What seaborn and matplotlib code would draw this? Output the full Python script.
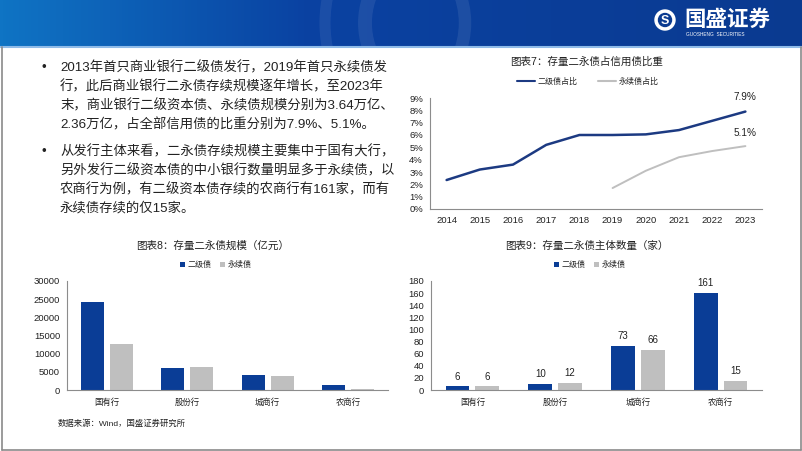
import numpy as np
import pandas as pd
import matplotlib
matplotlib.use("Agg")
import matplotlib.pyplot as plt
from matplotlib.patches import Arc, Circle
from matplotlib.colors import LinearSegmentedColormap
from matplotlib.ticker import MultipleLocator, FixedLocator, FuncFormatter
import seaborn as sns

# ---------------- data ----------------
years = [2014, 2015, 2016, 2017, 2018, 2019, 2020, 2021, 2022, 2023]
tier2_share = [2.35, 3.2, 3.6, 5.2, 6.0, 6.0, 6.05, 6.4, 7.15, 7.9]
perp_years = [2019, 2020, 2021, 2022, 2023]
perp_share = [1.7, 3.1, 4.2, 4.7, 5.1]
line_names = ["二级债占比", "永续债占比"]

bank_types = ["国有行", "股份行", "城商行", "农商行"]
series_names = ["二级债", "永续债"]
tier2_scale = [24200, 6000, 4100, 1450]
perp_scale = [12700, 6200, 3750, 270]
tier2_count = [6, 10, 73, 161]
perp_count = [6, 12, 66, 15]

para1 = ["2013年首只商业银行二级债发行，2019年首只永续债发",
         "行，此后商业银行二永债存续规模逐年增长，至2023年",
         "末，商业银行二级资本债、永续债规模分别为3.64万亿、",
         "2.36万亿，占全部信用债的比重分别为7.9%、5.1%。"]
para2 = ["从发行主体来看，二永债存续规模主要集中于国有大行，",
         "另外发行二级资本债的中小银行数量明显多于永续债，以",
         "农商行为例，有二级资本债存续的农商行有161家，而有",
         "永续债存续的仅15家。"]

title7 = "图表7：存量二永债占信用债比重"
title8 = "图表8：存量二永债规模（亿元）"
title9 = "图表9：存量二永债主体数量（家）"
source = "数据来源：Wind，国盛证券研究所"

# ---------------- style ----------------
sns.set_theme(style="white")
plt.rcParams['font.family'] = ['Liberation Sans', 'Noto Sans CJK SC', 'DejaVu Sans']
plt.rcParams['axes.unicode_minus'] = False

NAVY = "#1c3a82"
BLUE = "#0a3d96"
GREY = "#bfbfbf"
AXC = "#8c8c8c"
TXT = "#222222"

W, H = 802, 451
fig = plt.figure(figsize=(W / 100, H / 100), dpi=100)
fig.patch.set_facecolor("white")


def px(x0, y0, x1, y1):
    return [x0 / W, 1 - y1 / H, (x1 - x0) / W, (y1 - y0) / H]


def ftext(x, y, s, **kw):
    fig.text(x / W, 1 - y / H, s, **kw)


# ---------------- header ----------------
hax = fig.add_axes(px(0, 0, W, 46))
hax.set_xlim(0, W)
hax.set_ylim(46, 0)
hax.axis("off")
cmap = LinearSegmentedColormap.from_list(
    "hdr", [(0, "#0f74c4"), (0.38, "#0a42a2"), (1.0, "#0a3a90")])
grad = np.linspace(0, 1, 256).reshape(1, -1)
hax.imshow(grad, cmap=cmap, aspect="auto", extent=[0, W, 46, 0])
# faint watermark shapes
hax.add_patch(Arc((420, 23), 110, 130, theta1=95, theta2=265,
                  color="white", alpha=0.08, lw=10))
hax.add_patch(Arc((415, 23), 100, 130, theta1=-70, theta2=70,
                  color="white", alpha=0.08, lw=9))
hax.add_patch(Arc((400, 23), 150, 200, theta1=155, theta2=205,
                  color="white", alpha=0.07, lw=8))
# logo
hax.add_patch(Circle((665, 20), 10, color="white"))
hax.add_patch(Circle((665, 20), 6.5, color="#0a3a90"))
hax.text(665, 20.5, "S", color="white", fontsize=9, fontweight="bold",
         ha="center", va="center")
hax.text(684, 19, "国盛证券", color="white", fontsize=15.5, fontweight="bold",
         ha="left", va="center", family=['Noto Sans CJK SC'])
hax.text(686, 35, "GUOSHENG  SECURITIES", color="white", fontsize=3.4,
         ha="left", va="center")
# light strip under header
fig.add_artist(plt.Line2D([0, 1], [1 - 47 / H, 1 - 47 / H], color="#8fbbe8",
                          lw=1.5, transform=fig.transFigure))

# slide border
for xs, ys in [([1.5 / W, 1.5 / W], [1 - 47 / H, 1.5 / H]),
               ([1 - 1.5 / W, 1 - 1.5 / W], [1 - 47 / H, 1.5 / H]),
               ([1.5 / W, 1 - 1.5 / W], [1.5 / H, 1.5 / H])]:
    fig.add_artist(plt.Line2D(xs, ys, color="#8a8a8a", lw=1.2,
                              transform=fig.transFigure))

# ---------------- text block ----------------
FS = 9.6
ys1 = [68, 87, 106, 125]
ys2 = [152, 171, 190, 208]
ftext(42, ys1[0], "•", fontsize=FS, color=TXT, va="center", ha="left")
ftext(42, ys2[0], "•", fontsize=FS, color=TXT, va="center", ha="left")
for y, s in zip(ys1, para1):
    ftext(60, y, s, fontsize=FS, color=TXT, va="center", ha="left")
for y, s in zip(ys2, para2):
    ftext(60, y, s, fontsize=FS, color=TXT, va="center", ha="left")


def style_axes(ax):
    for sp in ["top", "right"]:
        ax.spines[sp].set_visible(False)
    for sp in ["left", "bottom"]:
        ax.spines[sp].set_color(AXC)
        ax.spines[sp].set_linewidth(0.8)
    ax.tick_params(axis="y", which="major", length=3, width=0.8, color=AXC,
                   direction="out", labelsize=6.8, labelcolor=TXT, pad=2)
    ax.tick_params(axis="x", which="major", length=0, labelcolor=TXT)
    ax.tick_params(axis="x", which="minor", length=3.5, width=0.8, color=AXC,
                   direction="out")
    ax.set_xlabel("")
    ax.set_ylabel("")
    ax.set_facecolor("white")


# ---------------- chart 7 (lines) ----------------
ax7 = fig.add_axes(px(430, 98, 762, 209))
df7 = pd.DataFrame({
    "year": years + perp_years,
    "share": tier2_share + perp_share,
    "series": [line_names[0]] * len(years) + [line_names[1]] * len(perp_years),
})
sns.lineplot(data=df7, x="year", y="share", hue="series",
             palette=[NAVY, GREY], ax=ax7, legend=True)
ax7.lines[0].set_linewidth(1.8)
ax7.lines[1].set_linewidth(1.4)
ax7.set_xlim(years[0] - 0.5, years[-1] + 0.5)
ax7.set_ylim(0, 9)
ax7.yaxis.set_major_locator(MultipleLocator(1))
ax7.yaxis.set_major_formatter(FuncFormatter(lambda v, p: f"{v:.0f}%"))
ax7.set_xticks(years)
ax7.set_xticklabels([str(y) for y in years])
ax7.xaxis.set_minor_locator(FixedLocator([y + 0.5 for y in years]))
style_axes(ax7)
ax7.tick_params(axis="x", which="major", labelsize=6.8, pad=5)
ax7.annotate(f"{tier2_share[-1]:.1f}%", (years[-1], tier2_share[-1]),
             xytext=(0, 7), textcoords="offset points", ha="center",
             va="bottom", fontsize=7.2, color=TXT)
ax7.annotate(f"{perp_share[-1]:.1f}%", (perp_years[-1], perp_share[-1]),
             xytext=(0, 6), textcoords="offset points", ha="center",
             va="bottom", fontsize=7.2, color=TXT)
h, l = ax7.get_legend_handles_labels()
ax7.legend(h, l, loc="center", bbox_to_anchor=(0.476, (209 - 82) / 111),
           ncol=2, frameon=False, fontsize=5.8, handlelength=2.2,
           handletextpad=0.4, columnspacing=2.5, labelcolor=TXT)
ftext(587, 62, title7, fontsize=7.6, color=TXT, ha="center", va="center")


# ---------------- bar charts ----------------
def bar_chart(rect, values_a, values_b, ymax, ystep, legend_x, labels=False):
    ax = fig.add_axes(rect)
    df = pd.DataFrame({
        "bank": bank_types * 2,
        "value": values_a + values_b,
        "series": [series_names[0]] * 4 + [series_names[1]] * 4,
    })
    sns.barplot(data=df, x="bank", y="value", hue="series", order=bank_types,
                hue_order=series_names, palette=[BLUE, GREY], saturation=1,
                width=0.72, gap=0.2, linewidth=0, ax=ax, legend=True)
    ax.set_xlim(-0.5, 3.5)
    ax.set_ylim(0, ymax)
    ax.yaxis.set_major_locator(MultipleLocator(ystep))
    ax.xaxis.set_minor_locator(FixedLocator([0.5, 1.5, 2.5, 3.5]))
    style_axes(ax)
    ax.tick_params(axis="x", which="major", labelsize=6.0, pad=6)
    if labels:
        for c in ax.containers:
            ax.bar_label(c, fmt="%d", padding=3.5, fontsize=7.0, color=TXT)
    h, l = ax.get_legend_handles_labels()
    ax.legend(h, l, loc="center", bbox_to_anchor=(legend_x, (390 - 265) / 109),
              ncol=2, frameon=False, fontsize=5.8, handlelength=0.6,
              handleheight=0.6, handletextpad=0.4, columnspacing=1.0,
              labelcolor=TXT)
    return ax


ax8 = bar_chart(px(67, 281, 388, 390), tier2_scale, perp_scale, 30000, 5000,
                0.464)
ftext(213, 246, title8, fontsize=7.6, color=TXT, ha="center", va="center")
ftext(58, 424, source, fontsize=6.0, color=TXT, ha="left", va="center")

ax9 = bar_chart(px(431, 281, 762, 390), tier2_count, perp_count, 180, 20,
                0.48, labels=True)
ftext(587, 246, title9, fontsize=7.6, color=TXT, ha="center", va="center")

fig.savefig("out.png", dpi=100, facecolor="white")
